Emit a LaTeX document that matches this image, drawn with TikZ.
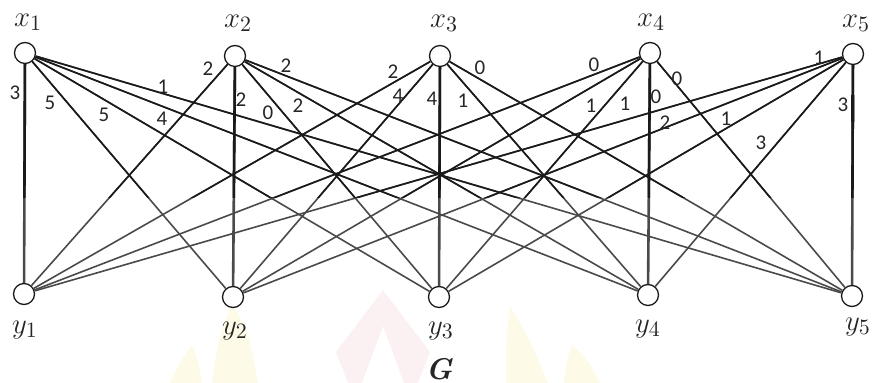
\documentclass[tikz,border=0pt]{standalone}
\usepackage{fontspec}
\usetikzlibrary{calc}
\newfontfamily\wfont{Carlito}
\definecolor{edgedark}{HTML}{1A1A1A}
\definecolor{edgegray}{HTML}{4A4A4A}
\definecolor{markpink}{HTML}{F2B8BC}
\definecolor{markyellow}{HTML}{F8E78A}
\begin{document}
\begin{tikzpicture}[x=0.5pt,y=-0.5pt,
  vtx/.style={circle,draw=edgedark,fill=white,line width=0.65pt,minimum size=10.5pt,inner sep=0pt},
  wt/.style={font=\wfont\fontsize{10.5}{10.5}\selectfont,text=black!85,inner sep=0pt},
  lbl/.style={font=\fontsize{15}{15}\selectfont,text=black!85,inner sep=0pt}]

\useasboundingbox (0,0) rectangle (873,383);

% faint logo in the background
\begin{scope}[opacity=0.2]
  \fill[markpink] (383,290) -- (430,352) -- (418,383) -- (404,383) -- (383,326)
        -- (362,383) -- (348,383) -- (336,352) -- cycle;
  \fill[markyellow] (232,304) .. controls (248,330) .. (258,383) -- (212,383) .. controls (218,340) .. cycle;
  \fill[markyellow] (192,345) .. controls (198,360) .. (202,383) -- (170,383) .. controls (180,362) .. cycle;
  \fill[markyellow] (510,306) .. controls (530,340) .. (548,383) -- (506,383) .. controls (506,340) .. cycle;
  \fill[markyellow] (572,345) .. controls (588,360) .. (600,383) -- (564,383) .. controls (566,362) .. cycle;
\end{scope}

% vertices
\node[vtx] (x1) at (25,53) {};
\node[vtx] (x2) at (235,56) {};
\node[vtx] (x3) at (440,56) {};
\node[vtx] (x4) at (650,53) {};
\node[vtx] (x5) at (853,54) {};
\node[vtx] (y1) at (24,294) {};
\node[vtx] (y2) at (233,297) {};
\node[vtx] (y3) at (439,297) {};
\node[vtx] (y4) at (648,295) {};
\node[vtx] (y5) at (852,296) {};

% edges of the complete bipartite graph: grey below, dark above
\foreach \i in {1,...,5}{
  \foreach \j in {1,...,5}{
    \ifnum\i=\j \def\lw{1.3pt}\else\def\lw{0.8pt}\fi
    \draw[edgegray,line width=\lw] (x\i) -- (y\j);
  }
}
\begin{scope}
  \clip (0,0) rectangle (873,198);
  \foreach \i in {1,...,5}{
    \foreach \j in {1,...,5}{
      \ifnum\i=\j \def\lw{1.3pt}\else\def\lw{0.8pt}\fi
      \draw[edgedark,line width=\lw] (x\i) -- (y\j);
    }
  }
\end{scope}
\draw[edgedark,line width=1.6pt] ($(x5)!0.17!(y5)$) -- ($(x5)!0.28!(y5)$);

% vertex labels
\node[lbl] (lx1) at (28,22) {$x_1$};
\node[lbl] (lx2) at (238,23) {$x_2$};
\node[lbl] (lx3) at (444,23) {$x_3$};
\node[lbl] (lx4) at (651,22) {$x_4$};
\node[lbl] (lx5) at (856,23) {$x_5$};
\node[lbl] (ly1) at (25,330) {$y_1$};
\node[lbl] (ly2) at (235,331) {$y_2$};
\node[lbl] (ly3) at (441,331) {$y_3$};
\node[lbl] (ly4) at (648,329) {$y_4$};
\node[lbl] (ly5) at (858,327) {$y_5$};
\node[lbl,font=\fontsize{15}{15}\selectfont\bfseries\itshape] (gname) at (439,369) {G};

% edge weights
\node[wt] (w11) at (15,93) {3};
\node[wt] (w12) at (50,103) {5};
\node[wt] (w13) at (104,115) {5};
\node[wt] (w14) at (163,87) {1};
\node[wt] (w15) at (162,119) {4};
\node[wt] (w21) at (208,69) {2};
\node[wt] (w22) at (241,100) {2};
\node[wt] (w23) at (268,113) {0};
\node[wt] (w24) at (286,66) {2};
\node[wt] (w25) at (298,106) {2};
\node[wt] (w31) at (393,72) {2};
\node[wt] (w32) at (398,96) {4};
\node[wt] (w33) at (432,99) {4};
\node[wt] (w34) at (463,101) {1};
\node[wt] (w35) at (480,68) {0};
\node[wt] (w41) at (594,65) {0};
\node[wt] (w42) at (591,106) {1};
\node[wt] (w43) at (625,104) {1};
\node[wt] (w44) at (656,97) {0};
\node[wt] (w45) at (677,79) {0};
\node[wt] (w51) at (819,58) {1};
\node[wt] (w52) at (843,105) {3};
\node[wt] (w53) at (665,123) {2};
\node[wt] (w54) at (726,119) {1};
\node[wt] (w55) at (761,143) {3};
\end{tikzpicture}
\end{document}
